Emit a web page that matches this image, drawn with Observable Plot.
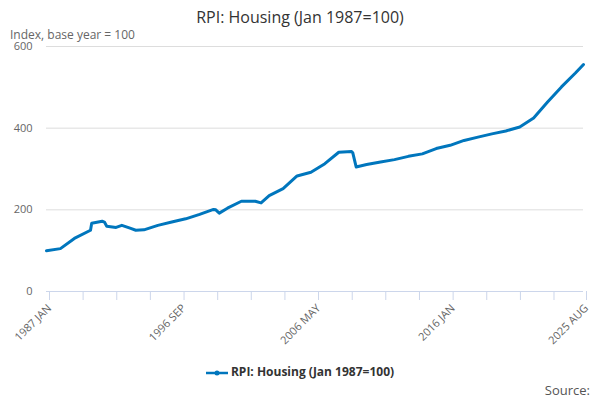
<!DOCTYPE html>
<html>
<head>
<meta charset="utf-8">
<script src="https://cdn.jsdelivr.net/npm/d3@7"></script>
<script src="https://cdn.jsdelivr.net/npm/@observablehq/plot@0.6"></script>
<style>
  body { margin: 0; font-family: "Open Sans", "DejaVu Sans", sans-serif; background: #fff; }
  #wrap { width: 600px; height: 400px; position: relative; }
  .title { text-align: center; font-size: 16px; color: #333; padding-top: 6px; height: 20px; }
  .sub { font-size: 12px; color: #666; margin-left: 10px; height: 15px; }
  #chart svg { overflow: visible; }
  .legend { text-align: center; font-size: 12px; font-weight: bold; color: #333; margin-top: 22px; }
  .legend svg { vertical-align: middle; margin-right: 3px; }
  .source { position: absolute; right: 10px; top: 381px; font-size: 13px; color: #555; }
</style>
</head>
<body>
<div id="wrap">
  <div class="title">RPI: Housing (Jan 1987=100)</div>
  <div class="sub">Index, base year = 100</div>
  <div id="chart"></div>
  <div class="legend"><svg width="22" height="8"><line x1="0" y1="4" x2="22" y2="4" stroke="#0076bd" stroke-width="2.5"/><circle cx="11" cy="4" r="2.5" fill="#0076bd"/></svg>RPI: Housing (Jan 1987=100)</div>
  <div class="source">Source:</div>
</div>
<script>
const months = ["1987-01","1988-01","1989-01","1990-03","1990-04","1991-01","1991-03","1991-05","1992-01","1992-06","1993-01","1993-06","1994-01","1995-01","1996-01","1997-01","1998-01","1999-01","1999-03","1999-06","2000-01","2001-01","2002-01","2002-06","2003-01","2004-01","2005-01","2006-01","2007-01","2008-01","2008-12","2009-01","2009-04","2010-01","2011-01","2012-01","2013-01","2014-01","2015-01","2016-01","2017-01","2018-01","2019-01","2020-01","2021-01","2022-01","2023-01","2024-01","2025-01","2025-08"];
const values = [100,105,130,150,167,172,170,160,157,162,155,150,151,162,170,178,189,201,200,192,204,221,221,217,235,252,283,292,313,341,343,340,305,311,317,323,331,337,350,358,370,378,386,393,403,425,464,501,535,556];
const tickLabels = {"1987-01":"1987 JAN","1996-09":"1996 SEP","2006-05":"2006 MAY","2016-01":"2016 JAN","2025-08":"2025 AUG"};

const parse = d3.utcParse("%Y-%m");
const rows = months.map((m, i) => ({ date: parse(m), value: values[i] }));
const start = parse("1987-01");
const end = parse("2025-08");
const ticks = d3.range(0, 16).map((k) => d3.utcMonth.offset(start, k * 29)).concat([end]);
const fmt = d3.utcFormat("%Y-%m");

const fig = Plot.plot({
  width: 600,
  height: 300,
  marginTop: 5,
  marginLeft: 46,
  marginRight: 17,
  marginBottom: 50,
  style: { fontFamily: "Open Sans, DejaVu Sans, sans-serif", fontSize: "11px", color: "#666" },
  x: { type: "utc", domain: [start, end], label: null },
  y: { domain: [0, 600], label: null },
  marks: [
    Plot.gridY([200, 400, 600], { stroke: "#ddd", strokeOpacity: 1 }),
    Plot.ruleY([0], { stroke: "#ccd6eb" }),
    Plot.axisX(ticks, { tickFormat: (d) => tickLabels[fmt(d)] || "", tickRotate: -45, tickSize: 9, stroke: "#ccd6eb", textStroke: "none", fill: "#666", textAnchor: "end", dx: 3, dy: 0 }),
    Plot.axisY([0, 200, 400, 600], { tickSize: 0, tickPadding: 14, fill: "#666" }),
    Plot.lineY(rows, { x: "date", y: "value", stroke: "#0076bd", strokeWidth: 3, strokeLinejoin: "round", strokeLinecap: "round" })
  ]
});
document.getElementById("chart").appendChild(fig);
</script>
</body>
</html>
